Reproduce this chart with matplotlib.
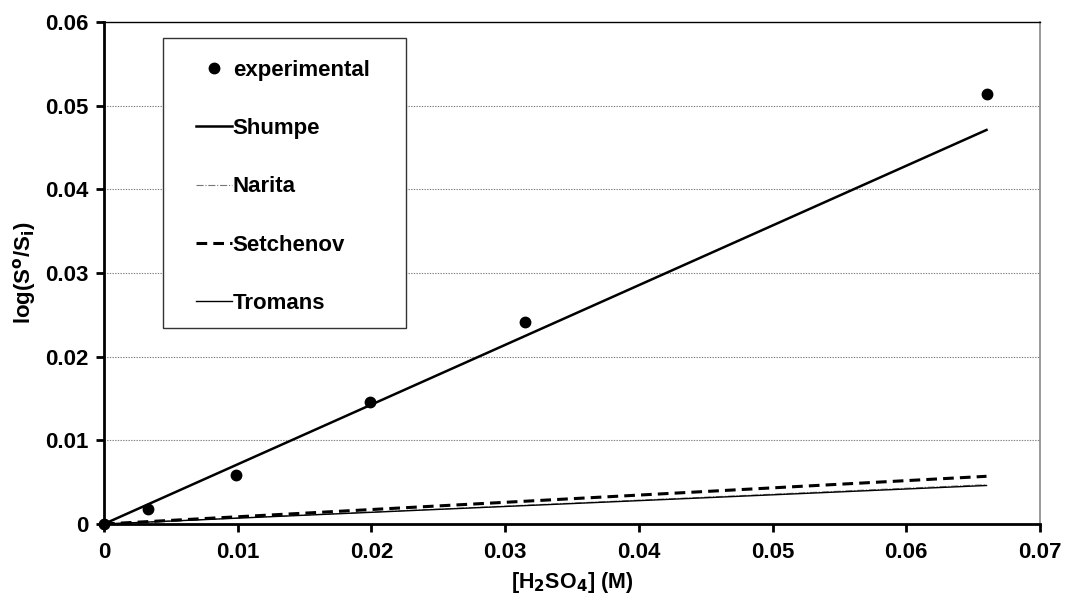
import numpy as np
import matplotlib.pyplot as plt
from matplotlib.patches import Rectangle

plt.rcParams['font.family'] = ['Liberation Sans', 'DejaVu Sans']
plt.rcParams['font.weight'] = 'bold'

# experimental data
conc = [0.0, 0.0033, 0.0099, 0.0199, 0.0315, 0.066]
log_ratio = [0.0, 0.0018, 0.0058, 0.0146, 0.0241, 0.0514]

# model predictions (straight lines through the origin)
model_conc = [0.0, 0.066]
shumpe = [0.0, 0.0471]
narita = [0.0, 0.0047]
setchenov = [0.0, 0.0057]
tromans = [0.0, 0.0046]

x_ticks = [0, 0.01, 0.02, 0.03, 0.04, 0.05, 0.06, 0.07]
x_ticklabels = ['0', '0.01', '0.02', '0.03', '0.04', '0.05', '0.06', '0.07']
y_ticks = [0, 0.01, 0.02, 0.03, 0.04, 0.05, 0.06]
y_ticklabels = ['0', '0.01', '0.02', '0.03', '0.04', '0.05', '0.06']

fig = plt.figure(figsize=(10.66, 6), dpi=100)
ax = fig.add_axes([0.0976, 0.1267, 0.8780, 0.8366])

for y in y_ticks[1:-1]:
    ax.axhline(y, color='#7f7f7f', lw=0.8, ls=(0, (1.2, 1.2)), zorder=0)

ax.plot(conc, log_ratio, 'o', color='black', ms=7.5, clip_on=False,
        zorder=5, label='experimental')
ax.plot(model_conc, shumpe, '-', color='black', lw=1.8, label='Shumpe')
ax.plot(model_conc, narita, color='#777777', lw=0.8, ls='-.', label='Narita')
ax.plot(model_conc, setchenov, color='black', lw=2.2, ls=(0, (3.5, 2)),
        label='Setchenov')
ax.plot(model_conc, tromans, '-', color='black', lw=1.0, label='Tromans')

ax.set_xlim(0, 0.07)
ax.set_ylim(0, 0.06)
ax.set_xticks(x_ticks)
ax.set_xticklabels(x_ticklabels)
ax.set_yticks(y_ticks)
ax.set_yticklabels(y_ticklabels)
ax.tick_params(axis='both', direction='out', length=6, width=2,
               labelsize=16, pad=5)
ax.tick_params(axis='x', pad=7)

ax.spines['left'].set_linewidth(2)
ax.spines['bottom'].set_linewidth(2)
ax.spines['top'].set_linewidth(1)
ax.spines['right'].set_linewidth(1.2)
ax.spines['right'].set_color('#888888')

ax.set_xlabel('[H$_\\mathbf{2}$SO$_\\mathbf{4}$] (M)', fontsize=15.5,
              fontweight='bold', labelpad=5)
ax.set_ylabel('log(S$^\\mathbf{o}$/S$_\\mathbf{i}$)', fontsize=16,
              fontweight='bold', labelpad=5)

# legend frame drawn separately so the padding matches the original
ax.add_patch(Rectangle((0.063, 0.3904), 0.2596, 0.5777,
                       transform=ax.transAxes, fill=True, facecolor='white',
                       edgecolor='#333333', lw=1.0, zorder=6))
leg = ax.legend(loc='upper left', bbox_to_anchor=(0.0983, 0.925),
                frameon=False, fontsize=16, labelspacing=1.68,
                handlelength=1.6, handletextpad=0.05, borderpad=0,
                borderaxespad=0)
leg.set_zorder(7)
for t in leg.get_texts():
    t.set_fontweight('bold')

fig.savefig('out.png', dpi=100)
